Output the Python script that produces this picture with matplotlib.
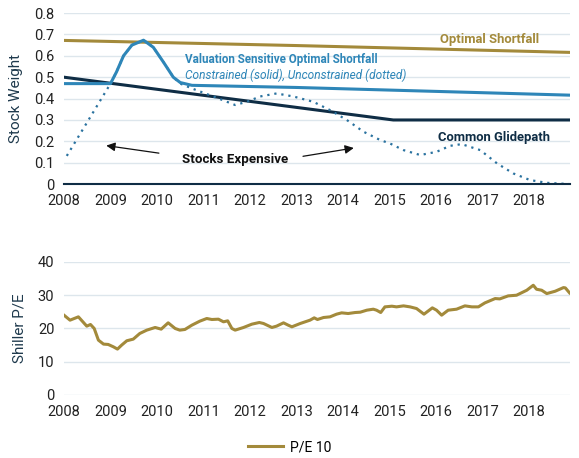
"""Stock weight paths (top) and Shiller P/E (bottom), 2008-2018."""
import matplotlib.pyplot as plt

# ---- data ----
opt_years = [2008.0, 2013.0, 2018.88]
opt_weight = [0.672, 0.648, 0.616]

glide_years = [2008.0, 2015.08, 2018.88]
glide_weight = [0.50, 0.30, 0.30]

vs_years = [2008.0, 2009.0, 2009.13, 2009.28, 2009.46, 2009.71, 2009.92,
            2010.14, 2010.35, 2010.5, 2010.75, 2013.0, 2018.88]
vs_solid = [0.47, 0.47, 0.525, 0.60, 0.65, 0.673, 0.64,
            0.57, 0.50, 0.475, 0.462, 0.452, 0.416]

dot_years = [2008.06, 2008.5, 2009.0, 2009.13, 2009.28, 2009.46, 2009.71, 2009.92,
             2010.14, 2010.35, 2010.5, 2010.78, 2011.21, 2011.68, 2011.93,
             2012.22, 2012.57, 2012.93, 2013.36, 2013.72, 2014.08, 2014.44,
             2014.8, 2015.01, 2015.3, 2015.66, 2016.01, 2016.3, 2016.55,
             2016.95, 2017.31, 2017.66, 2018.02, 2018.38, 2018.88]
dot_weight = [0.132, 0.29, 0.47, 0.525, 0.60, 0.65, 0.673, 0.64,
              0.57, 0.50, 0.47, 0.445, 0.41, 0.37, 0.385,
              0.41, 0.424, 0.41, 0.385, 0.346, 0.30, 0.245,
              0.206, 0.19, 0.159, 0.136, 0.151, 0.179, 0.187,
              0.159, 0.097, 0.05, 0.019, 0.006, 0.0]

pe_years = [2008.0, 2008.13, 2008.31, 2008.49, 2008.57, 2008.65, 2008.74, 2008.85,
            2008.95, 2009.06, 2009.15, 2009.24, 2009.35, 2009.49, 2009.63, 2009.78,
            2009.96, 2010.09, 2010.24, 2010.39, 2010.49, 2010.6, 2010.75, 2010.92,
            2011.07, 2011.18, 2011.32, 2011.43, 2011.52, 2011.61, 2011.68, 2011.86,
            2012.04, 2012.2, 2012.29, 2012.47, 2012.57, 2012.72, 2012.82, 2012.9,
            2013.08, 2013.29, 2013.38, 2013.45, 2013.58, 2013.72, 2013.86, 2013.97,
            2014.11, 2014.26, 2014.37, 2014.51, 2014.65, 2014.72, 2014.81, 2014.9,
            2015.05, 2015.15, 2015.3, 2015.44, 2015.58, 2015.74, 2015.92, 2016.01,
            2016.12, 2016.26, 2016.44, 2016.62, 2016.77, 2016.91, 2017.05, 2017.27,
            2017.37, 2017.55, 2017.73, 2017.95, 2018.09, 2018.16, 2018.27, 2018.38,
            2018.56, 2018.74, 2018.78, 2018.87]
pe_values = [24.0, 22.5, 23.5, 20.7, 21.2, 20.0, 16.5, 15.3,
             15.2, 14.5, 13.8, 15.0, 16.3, 16.8, 18.5, 19.5,
             20.3, 19.8, 21.7, 20.0, 19.5, 19.7, 21.0, 22.2,
             23.0, 22.7, 22.8, 22.0, 22.3, 20.0, 19.5, 20.3,
             21.3, 21.8, 21.5, 20.3, 20.7, 21.7, 21.0, 20.5,
             21.5, 22.5, 23.2, 22.7, 23.3, 23.5, 24.3, 24.7,
             24.5, 24.8, 24.9, 25.5, 25.8, 25.5, 24.8, 26.5,
             26.7, 26.5, 26.8, 26.5, 26.0, 24.3, 26.2, 25.5,
             24.0, 25.5, 25.8, 26.8, 26.5, 26.5, 27.7, 29.0,
             28.9, 29.8, 30.0, 31.5, 33.0, 31.8, 31.5, 30.5,
             31.2, 32.3, 32.2, 30.7]

year_ticks = list(range(2008, 2019))
weight_ticks = [0, 0.1, 0.2, 0.3, 0.4, 0.5, 0.6, 0.7, 0.8]
weight_labels = ['0', '0.1', '0.2', '0.3', '0.4', '0.5', '0.6', '0.7', '0.8']
pe_ticks = [0, 10, 20, 30, 40]

GOLD = '#a38a3b'
BLUE = '#2e86b8'
DOT = '#2a729f'
NAVY = '#0f2d45'
GRID = '#dde6ec'
LABEL = '#1f3a4d'

plt.rcParams['font.family'] = ['Roboto', 'DejaVu Sans']

fig = plt.figure(figsize=(5.79, 4.58), dpi=100)
ax1 = fig.add_axes([0.1105, 0.598, 0.874, 0.3735])
ax2 = fig.add_axes([0.1105, 0.1376, 0.874, 0.2904])

# ---- top panel ----
ax1.plot(opt_years, opt_weight, color=GOLD, lw=2.2)
ax1.plot(glide_years, glide_weight, color=NAVY, lw=2.2)
ax1.plot(dot_years, dot_weight, color=DOT, lw=1.6, ls=(0, (1, 2.2)))
ax1.plot(vs_years, vs_solid, color=BLUE, lw=2.2)

ax1.set_xlim(2008, 2018.88)
ax1.set_ylim(0, 0.8)
ax1.set_yticks(weight_ticks)
ax1.set_yticklabels(weight_labels)
ax1.set_xticks(year_ticks)
ax1.grid(axis='y', color=GRID, lw=1)
ax1.set_axisbelow(True)
for s in ('top', 'right', 'left'):
    ax1.spines[s].set_visible(False)
ax1.spines['bottom'].set_color(NAVY)
ax1.spines['bottom'].set_linewidth(1.5)
ax1.tick_params(length=0, labelsize=10.5, colors='#222222', pad=7)
ax1.set_ylabel('Stock Weight', fontsize=11, color=LABEL, labelpad=8)

ax1.text(2016.09, 0.675, 'Optimal Shortfall', color=GOLD, fontsize=9.4,
         fontweight='bold', va='center')
ax1.text(2010.6, 0.584, 'Valuation Sensitive Optimal Shortfall', color=BLUE,
         fontsize=8.4, fontweight='bold', va='center')
ax1.text(2010.6, 0.51, 'Constrained (solid), Unconstrained (dotted)', color=BLUE,
         fontsize=8.6, fontstyle='italic', va='center')
ax1.text(2016.04, 0.22, 'Common Glidepath', color=NAVY, fontsize=9.4,
         fontweight='bold', va='center')
ax1.text(2010.53, 0.117, 'Stocks Expensive', color='#111111', fontsize=9.6,
         fontweight='bold', va='center')
arrow = dict(arrowstyle='-|>', color='#111111', lw=0.9, mutation_scale=13)
ax1.annotate('', xy=(2008.85, 0.182), xytext=(2010.1, 0.143), arrowprops=arrow)
ax1.annotate('', xy=(2014.29, 0.171), xytext=(2013.08, 0.128), arrowprops=arrow)

# ---- bottom panel ----
ax2.plot(pe_years, pe_values, color=GOLD, lw=2.2, label='P/E 10')
ax2.set_xlim(2008, 2018.88)
ax2.set_ylim(0, 40)
ax2.set_yticks(pe_ticks)
ax2.set_xticks(year_ticks)
ax2.grid(axis='y', color=GRID, lw=1)
ax2.set_axisbelow(True)
for s in ('top', 'right', 'left', 'bottom'):
    ax2.spines[s].set_visible(False)
ax2.tick_params(length=0, labelsize=10.5, colors='#222222', pad=7)
ax2.set_ylabel('Shiller P/E', fontsize=11, color=LABEL, labelpad=8)

fig.legend(loc='center', bbox_to_anchor=(0.5, 0.024), frameon=False,
           fontsize=10, handlelength=2.5, handletextpad=0.5)

fig.savefig('out.png', dpi=100)
plt.close(fig)
